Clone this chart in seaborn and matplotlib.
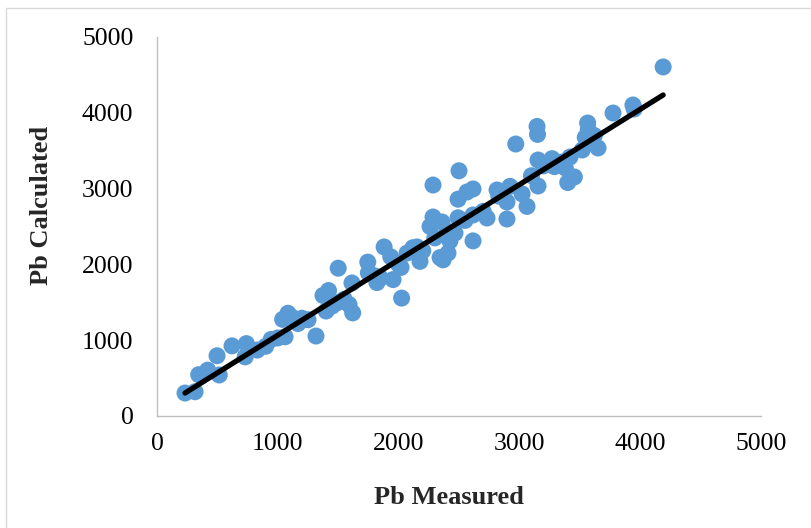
import matplotlib
matplotlib.use("Agg")
import matplotlib.pyplot as plt
import matplotlib.patches as mpatches
import seaborn as sns
import pandas as pd

# Data
pb_measured = [232, 315, 345, 420, 515, 497, 621, 740, 730, 830, 900, 945, 1000, 1060,
               1040, 1084, 1120, 1200, 1167, 1316, 1374, 1420, 1400, 1450, 1500, 1550,
               1590, 1614, 1620, 1745, 1750, 1821, 1880, 1935, 1954, 2025, 2020, 2152,
               2177, 2070, 2119, 2260, 2285, 2285, 2359, 2401, 2425, 2343, 2368, 2409,
               2467, 2616, 2492, 2616, 2732, 2492, 2500, 2566, 2616, 2815, 2922, 3022,
               2897, 3063, 2897, 2970, 3146, 3150, 3154, 3270, 3290, 3419, 3380, 3455,
               3400, 3154, 3520, 3545, 3651, 3565, 3570, 3775, 3940, 4190, 3600, 1800,
               1850, 2000, 2200, 2700, 3100, 3200, 1250, 1500, 2300, 2550, 2830, 3350,
               3620, 3950]
pb_calculated = [303, 320, 545, 605, 541, 795, 925, 955, 780, 870, 920, 1010, 1030, 1045,
                 1275, 1355, 1300, 1290, 1220, 1055, 1590, 1655, 1385, 1450, 1950, 1540,
                 1470, 1755, 1360, 2030, 1890, 1760, 2230, 2100, 1800, 1555, 1960, 2230,
                 2040, 2150, 2220, 2500, 2625, 3047, 2560, 2440, 2310, 2090, 2060, 2150,
                 2414, 2310, 2615, 2652, 2612, 2860, 3235, 2955, 2995, 2982, 3030, 2930,
                 2823, 2765, 2599, 3588, 3820, 3715, 3377, 3395, 3290, 3417, 3272, 3153,
                 3080, 3034, 3509, 3675, 3536, 3865, 3775, 3997, 4103, 4605, 3640, 1850,
                 1820, 2000, 2180, 2700, 3170, 3300, 1270, 1500, 2350, 2580, 2900, 3350,
                 3700, 4050]

# Linear trend line (end points)
trend_x = [232, 4190]
trend_y = [303, 4235]

ticks = [0, 1000, 2000, 3000, 4000, 5000]
x_label = "Pb Measured"
y_label = "Pb Calculated"

df = pd.DataFrame({"measured": pb_measured, "calculated": pb_calculated})
trend = pd.DataFrame({"x": trend_x, "y": trend_y})

sns.set_theme(style="white")
plt.rcParams["font.family"] = ["Liberation Serif", "DejaVu Serif"]

fig = plt.figure(figsize=(8.11, 5.28), dpi=100)
ax = fig.add_axes([157 / 811, 1 - 416 / 528, (761 - 157) / 811, (416 - 37) / 528])

sns.scatterplot(data=df, x="measured", y="calculated", ax=ax, color="#5B9BD5",
                s=150, edgecolor="none", linewidth=0, zorder=2)
sns.lineplot(data=trend, x="x", y="y", ax=ax, color="black", linewidth=3.8,
             zorder=3, solid_capstyle="round")

ax.set_xlim(0, 5000)
ax.set_ylim(0, 5000)
ax.set_xticks(ticks)
ax.set_yticks(ticks)
ax.set_xticklabels([str(t) for t in ticks])
ax.set_yticklabels([str(t) for t in ticks])
ax.tick_params(axis="both", length=0, labelsize=18.5, colors="black")
ax.tick_params(axis="x", pad=12)
ax.tick_params(axis="y", pad=17)

for side in ["top", "right"]:
    ax.spines[side].set_visible(False)
for side in ["left", "bottom"]:
    ax.spines[side].set_color("#BFBFBF")
    ax.spines[side].set_linewidth(1.0)

ax.set_xlabel("")
ax.set_ylabel("")
fig.text(449 / 811, 1 - 497 / 528, x_label, ha="center", va="center",
         fontsize=19, fontweight="bold")
fig.text(42 / 811, 1 - 205 / 528, y_label, ha="center", va="center",
         fontsize=19, fontweight="bold", rotation=90)

# Light chart-area border (left and top edges visible)
border = mpatches.Rectangle((6 / 811, -0.1), 2.0, 0.1 + (1 - 8 / 528),
                            transform=fig.transFigure, fill=False,
                            edgecolor="#D9D9D9", linewidth=1.0, zorder=0)
fig.patches.append(border)

fig.savefig("out.png", dpi=100)
